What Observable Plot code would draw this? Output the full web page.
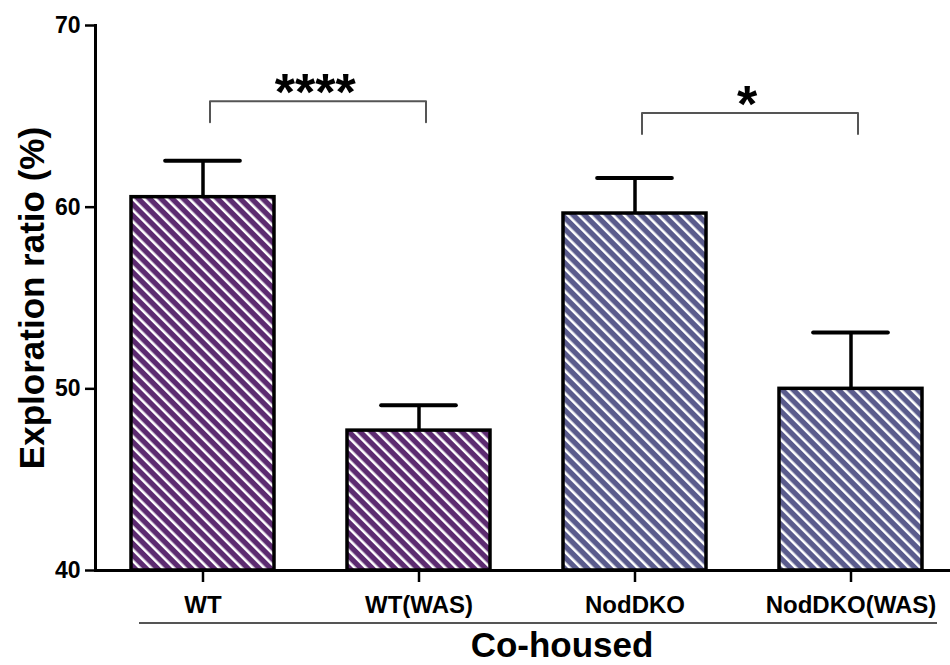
<!DOCTYPE html>
<html><head><meta charset="utf-8">
<script src="https://cdn.jsdelivr.net/npm/d3@7"></script>
<script src="https://cdn.jsdelivr.net/npm/@observablehq/plot@0.6"></script>
<style>
body{margin:0;background:#fff;}
#chart svg{font-family:"Liberation Sans",Arial,Helvetica,sans-serif;}
</style></head><body><div id="chart"></div>
<script>
// ---- data ----
const groups = ["WT", "WT(WAS)", "NodDKO", "NodDKO(WAS)"];
const genotypes = ["WT", "WT", "NodDKO", "NodDKO"];
const means = [60.55, 47.7, 59.65, 50.0];
const sems = [2.0, 1.4, 1.95, 3.1];
const yDomain = [40, 70];
const yTicks = [40, 50, 60, 70];
const compLeft = ["WT", "NodDKO"];
const compRight = ["WT(WAS)", "NodDKO(WAS)"];
const compTop = [65.83, 65.19];
const compLeg = [64.67, 64.03];
const compLabels = ["****", "*"];
const xTitle = "Co-housed";
const yTitle = "Exploration ratio (%)";
const hatchColors = {WT: "#5c2b70", NodDKO: "#5a5b8c"};

// ---- layout ----
const W = 950, H = 665;
const xRange = [95, 957], padIn = 0.338, padOut = 0.16;
const step = (xRange[1] - xRange[0]) / (groups.length - padIn + 2 * padOut);
const bw = step * (1 - padIn);

const bars = groups.map((g, i) => ({group: g, genotype: genotypes[i], mean: means[i], top: means[i] + sems[i]}));
const brackets = [];
compLeft.forEach((l, i) => {
  brackets.push({id: i, x: l, y: compLeg[i]}, {id: i, x: l, y: compTop[i]},
                {id: i, x: compRight[i], y: compTop[i]}, {id: i, x: compRight[i], y: compLeg[i]});
});
const comps = compLeft.map((l, i) => ({x: l, y: compTop[i], label: compLabels[i]}));

const svg = Plot.plot({
  width: W, height: H,
  marginTop: 25, marginBottom: 95, marginLeft: 95, marginRight: 0,
  style: {background: "white", fontFamily: "Liberation Sans, Arial, sans-serif", overflow: "visible"},
  x: {domain: groups, range: xRange, paddingInner: padIn, paddingOuter: padOut, label: null},
  y: {domain: yDomain, label: null},
  color: {domain: Object.keys(hatchColors), range: Object.keys(hatchColors).map(k => `url(#hatch-${k})`)},
  marks: [
    Plot.barY(bars, {x: "group", y1: () => yDomain[0], y2: "mean", fill: "genotype", stroke: "black", strokeWidth: 3.5}),
    Plot.ruleX(bars, {x: "group", y1: "mean", y2: "top", stroke: "black", strokeWidth: 3.5}),
    Plot.tickY(bars, {x: "group", y: "top", stroke: "black", strokeWidth: 4, strokeLinecap: "round", insetLeft: (bw - 75) / 2, insetRight: (bw - 75) / 2}),
    Plot.line(brackets, {x: "x", y: "y", z: "id", stroke: "#555", strokeWidth: 2, dx: 7, curve: "linear", strokeLinejoin: "round"}),
    Plot.text(comps, {x: "x", y: "y", text: "label", dx: step / 2 + 4, dy: 9, lineAnchor: "bottom", fontSize: 52, fontWeight: "bold", fill: "black"}),
    Plot.frame({anchor: "left", stroke: "black", strokeWidth: 3}),
    Plot.frame({anchor: "bottom", stroke: "black", strokeWidth: 3}),
    Plot.axisY({ticks: yTicks, tickSize: 10, tickPadding: 5, fontSize: 23, fontWeight: "bold", strokeWidth: 2.5, label: null}),
    Plot.axisX({tickSize: 12, tickPadding: 13, fontSize: 24, fontWeight: "bold", strokeWidth: 2.5, label: null}),
    Plot.text([yTitle], {text: d => d, frameAnchor: "left", rotate: -90, dx: -63, textAnchor: "middle", lineAnchor: "middle", fontSize: 35, fontWeight: "bold"}),
    Plot.text([xTitle], {text: d => d, frameAnchor: "bottom", dx: 39, dy: 86, textAnchor: "middle", lineAnchor: "bottom", fontSize: 35, fontWeight: "bold"})
  ]
});

// hatch patterns
const defs = d3.select(svg).insert("defs", ":first-child");
Object.entries(hatchColors).forEach(([k, c]) => {
  const p = defs.append("pattern").attr("id", `hatch-${k}`).attr("patternUnits", "userSpaceOnUse")
    .attr("width", 8).attr("height", 8).attr("patternTransform", "rotate(-45)");
  p.append("rect").attr("width", 8).attr("height", 8).attr("fill", c);
  p.append("rect").attr("width", 2.6).attr("height", 8).attr("fill", "#fff");
});
// group underline between tick labels and title
d3.select(svg).append("line").attr("x1", 139).attr("x2", 937).attr("y1", 623).attr("y2", 623)
  .attr("stroke", "#555").attr("stroke-width", 2);

document.getElementById("chart").append(svg);
</script></body></html>
